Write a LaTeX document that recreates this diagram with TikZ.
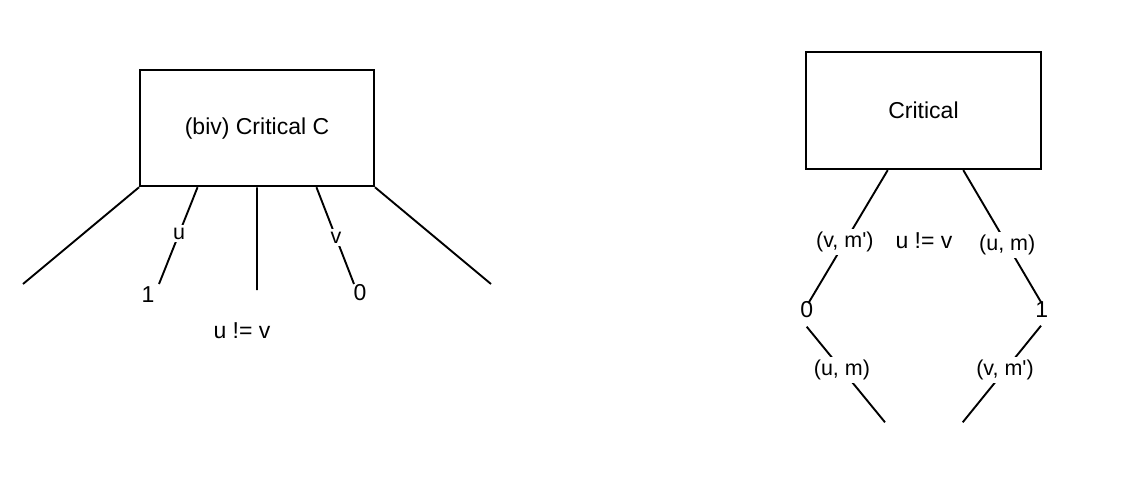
\documentclass[tikz,border=0pt]{standalone}
\usepackage{fontspec}
\setmainfont{Liberation Sans}
\usetikzlibrary{calc}
\begin{document}
\begin{tikzpicture}[x=1pt,y=-1pt,
  ln/.style={line width=1.9pt, line cap=butt},
  boxnode/.style={draw, line width=1.9pt, inner sep=0pt, font=\fontsize{23}{27}\selectfont},
  txt/.style={inner sep=0pt, font=\fontsize{23}{27}\selectfont},
  elbl/.style={fill=white, inner sep=3pt, font=\fontsize{21.5}{25}\selectfont}]
\useasboundingbox (0,0) rectangle (1145,483);
% left diagram
\node[boxnode, minimum width=234pt, minimum height=116pt] (critC) at (257,128.3) {(biv) Critical C};
\coordinate (l1) at (critC.south west);
\coordinate (l2) at ($(critC.south west)!0.248!(critC.south east)$);
\coordinate (l3) at ($(critC.south west)!0.5!(critC.south east)$);
\coordinate (l4) at ($(critC.south west)!0.752!(critC.south east)$);
\coordinate (l5) at (critC.south east);
\coordinate (e1) at (23,284);
\coordinate (e2) at (159,284);
\coordinate (e3) at (257,290);
\coordinate (e4) at (354,284);
\coordinate (e5) at (491,284);
\draw[ln] (l1) -- (e1);
\draw[ln] (l2) -- node[elbl, pos=0.48] (lu) {u} (e2);
\draw[ln] (l3) -- (e3);
\draw[ln] (l4) -- node[elbl, pos=0.52] (lv) {v} (e4);
\draw[ln] (l5) -- (e5);
\node[txt] (one) at (148,295) {1};
\node[txt] (zero) at (360,293) {0};
\node[txt] (neqL) at (242,331) {u != v};
% right diagram
\node[boxnode, minimum width=235pt, minimum height=117pt] (crit) at (923.5,110.7) {Critical};
\coordinate (r1) at ($(crit.south west)!0.349!(crit.south east)$);
\coordinate (r2) at ($(crit.south west)!0.668!(crit.south east)$);
\node[txt] (zeroR) at (806.7,310) {0};
\node[txt] (oneR) at (1041.7,310) {1};
\coordinate (z1) at (808.3,303.3);
\coordinate (z2) at (806.7,326.7);
\coordinate (o1) at (1041.7,303.3);
\coordinate (o2) at (1041,325.7);
\coordinate (b1) at (885,422.3);
\coordinate (b2) at (962.7,422.3);
\draw[ln] (r1) -- node[elbl, pos=0.54] (lvm1) {(v, m\textquotesingle)} (z1);
\draw[ln] (z2) -- node[elbl, pos=0.45] (lum1) {(u, m)} (b1);
\draw[ln] (r2) -- node[elbl, pos=0.56] (lum2) {(u, m)} (o1);
\draw[ln] (o2) -- node[elbl, pos=0.46] (lvm2) {(v, m\textquotesingle)} (b2);
\node[txt] (neqR) at (924,241) {u != v};
\end{tikzpicture}
\end{document}
